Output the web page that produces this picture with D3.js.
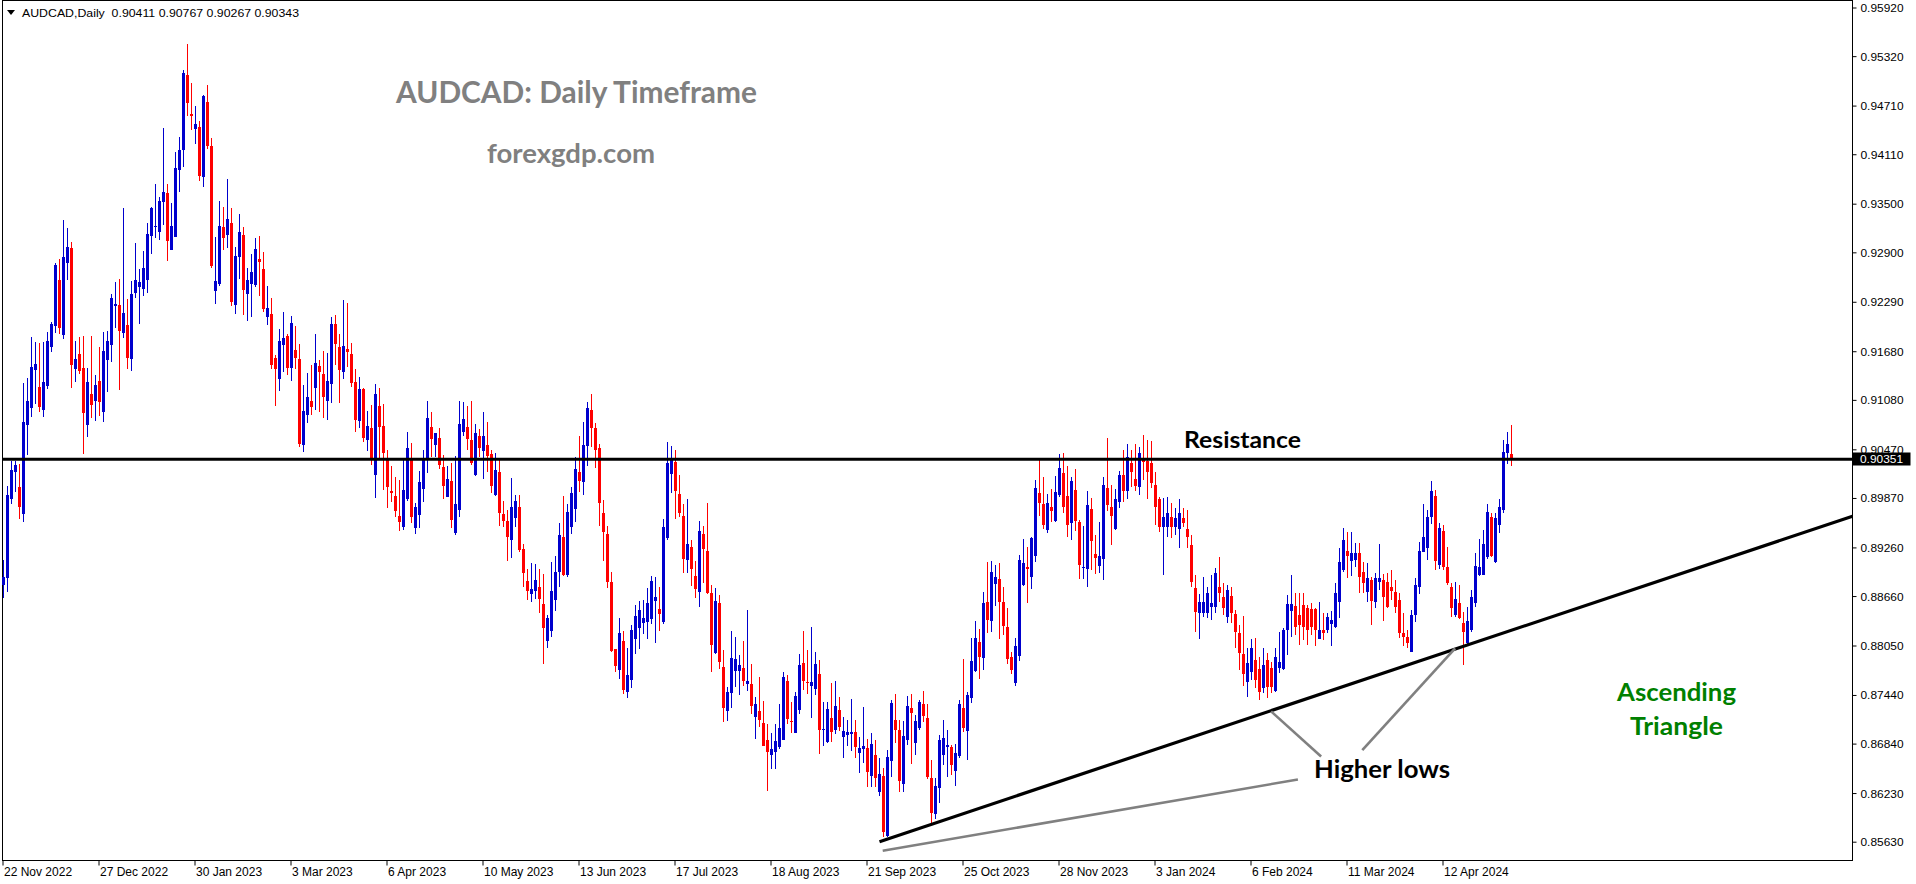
<!DOCTYPE html>
<html><head><meta charset="utf-8">
<script src="https://cdn.jsdelivr.net/npm/d3@7"></script>
<style>html,body{margin:0;padding:0;background:#fff;overflow:hidden}svg{display:block}</style>
</head><body>
<svg id="chart" width="1916" height="884"></svg>
<script>
// ---------- data ----------
const symbolTitle = "AUDCAD,Daily";
const priceTicks = [0.95920,0.95320,0.94710,0.94110,0.93500,0.92900,0.92290,0.91680,0.91080,0.90470,0.89870,0.89260,0.88660,0.88050,0.87440,0.86840,0.86230,0.85630];
const dateLabels = ["22 Nov 2022","27 Dec 2022","30 Jan 2023","3 Mar 2023","6 Apr 2023","10 May 2023","13 Jun 2023","17 Jul 2023","18 Aug 2023","21 Sep 2023","25 Oct 2023","28 Nov 2023","3 Jan 2024","6 Feb 2024","11 Mar 2024","12 Apr 2024"];
const dateLabelBars = [0,24,48,72,96,120,144,168,192,216,240,264,288,312,336,360];

const opens = [.8880,.8888,.8986,.9019,.9000,.8967,.9077,.9098,.9145,.9124,
.9095,.9125,.9173,.9199,.9256,.9188,.9277,.9295,.9146,.9165,
.9147,.9077,.9115,.9107,.9131,.9093,.9157,.9176,.9224,.9225,
.9190,.9200,.9158,.9240,.9247,.9245,.9256,.9310,.9321,.9315,
.9352,.9363,.9293,.9309,.9391,.9416,.9509,.9461,.9442,.9445,
.9383,.9475,.9421,.9242,.9251,.9321,.9311,.9326,.9225,.9284,
.9311,.9238,.9251,.9250,.9282,.9269,.9210,.9214,.9160,.9134,
.9176,.9187,.9147,.9169,.9158,.9052,.9089,.9107,.9123,.9150,
.9140,.9107,.9128,.9202,.9173,.9142,.9171,.9165,.9130,.9082,
.9121,.9058,.9073,.9015,.9100,.9076,.9034,.8996,.8989,.8965,
.8951,.8986,.9034,.8950,.8966,.8998,.9035,.9074,.9052,.9061,
.9025,.8988,.9008,.8944,.8972,.9068,.9074,.9058,.9015,.9063,
.9045,.9052,.9041,.8991,.9019,.8967,.8958,.8935,.8962,.8976,
.8924,.8885,.8869,.8872,.8877,.8856,.8811,.8823,.8861,.8896,
.8939,.8892,.8951,.8973,.9019,.9007,.9051,.9095,.9073,.9049,
.8968,.8943,.8883,.8801,.8775,.8811,.8748,.8762,.8813,.8827,
.8833,.8834,.8838,.8860,.8850,.8834,.8938,.9016,.9031,.8992,
.8965,.8910,.8926,.8891,.8871,.8943,.8921,.8870,.8796,.8857,
.8778,.8724,.8746,.8773,.8773,.8777,.8757,.8757,.8717,.8724,
.8709,.8688,.8670,.8674,.8680,.8688,.8761,.8712,.8697,.8725,
.8783,.8760,.8755,.8751,.8770,.8701,.8686,.8716,.8701,.8725,
.8692,.8695,.8696,.8698,.8672,.8677,.8679,.8644,.8670,.8624,
.8644,.8570,.8663,.8713,.8701,.8634,.8688,.8728,.8685,.8703,
.8733,.8716,.8642,.8597,.8629,.8670,.8680,.8680,.8650,.8669,
.8728,.8700,.8740,.8773,.8809,.8790,.8859,.8835,.8881,.8887,
.8859,.8828,.8791,.8759,.8792,.8880,.8902,.8889,.8915,.8993,
.8980,.8947,.8976,.8958,.8991,.9018,.8989,.8956,.8997,.8957,
.8901,.8899,.8973,.8918,.8903,.8912,.8999,.8976,.8949,.8982,
.9015,.8996,.9030,.9010,.9000,.9035,.9033,.9030,.9003,.8986,
.8951,.8951,.8963,.8951,.8949,.8962,.8949,.8929,.8876,.8845,
.8845,.8845,.8852,.8852,.8877,.8865,.8840,.8866,.8844,.8820,
.8795,.8760,.8772,.8787,.8776,.8753,.8787,.8777,.8749,.8777,
.8776,.8824,.8848,.8854,.8843,.8855,.8851,.8850,.8850,.8813,
.8824,.8824,.8831,.8828,.8859,.8898,.8921,.8909,.8910,.8919,
.8896,.8871,.8886,.8859,.8883,.8886,.8883,.8877,.8871,.8861,
.8820,.8815,.8797,.8843,.8877,.8920,.8925,.8963,.8989,.8904,
.8946,.8902,.8877,.8843,.8857,.8833,.8808,.8824,.8857,.8892,
.8892,.8914,.8963,.8908,.8954,.8972,.9042,.90411];

const highs = [.8910,.9002,.9033,.9033,.9029,.9129,.9135,.9186,.9179,.9178,
.9179,.9192,.9204,.9277,.9282,.9330,.9320,.9303,.9181,.9186,
.9187,.9147,.9187,.9139,.9173,.9192,.9193,.9238,.9253,.9257,
.9345,.9232,.9255,.9301,.9269,.9292,.9326,.9346,.9374,.9358,
.9443,.9374,.9351,.9414,.9432,.9515,.9547,.9499,.9470,.9452,
.9484,.9496,.9431,.9309,.9353,.9346,.9380,.9345,.9296,.9337,
.9321,.9271,.9288,.9308,.9310,.9290,.9248,.9234,.9163,.9195,
.9216,.9189,.9211,.9199,.9177,.9126,.9141,.9151,.9189,.9157,
.9168,.9166,.9210,.9213,.9189,.9231,.9227,.9178,.9146,.9136,
.9123,.9094,.9102,.9128,.9123,.9103,.9046,.9026,.9013,.9009,
.9034,.9068,.9055,.8981,.9020,.9046,.9107,.9093,.9067,.9073,
.9040,.9026,.9030,.9039,.9107,.9105,.9100,.9107,.9078,.9072,
.9093,.9081,.9046,.9042,.9034,.8983,.8972,.9012,.8991,.8991,
.8930,.8899,.8907,.8906,.8899,.8893,.8843,.8908,.8915,.8956,
.8989,.8980,.9000,.9037,.9063,.9081,.9105,.9115,.9079,.9054,
.8985,.8952,.8896,.8801,.8839,.8823,.8802,.8830,.8855,.8860,
.8861,.8876,.8891,.8889,.8877,.8961,.9056,.9051,.9046,.9015,
.8980,.8986,.8935,.8909,.8959,.8952,.8981,.8880,.8876,.8867,
.8799,.8754,.8823,.8815,.8793,.8811,.8849,.8782,.8741,.8766,
.8737,.8708,.8697,.8708,.8733,.8772,.8769,.8735,.8748,.8794,
.8823,.8799,.8828,.8797,.8787,.8735,.8735,.8759,.8761,.8741,
.8717,.8713,.8739,.8713,.8692,.8729,.8690,.8697,.8688,.8666,
.8654,.8676,.8738,.8745,.8713,.8712,.8743,.8745,.8719,.8738,
.8749,.8733,.8664,.8642,.8695,.8713,.8701,.8682,.8683,.8738,
.8788,.8748,.8814,.8835,.8825,.8871,.8908,.8909,.8904,.8907,
.8877,.8851,.8797,.8814,.8917,.8936,.8926,.8939,.9009,.9034,
.9013,.8992,.8998,.9014,.9041,.9042,.9026,.9013,.9023,.8960,
.8952,.8996,.8987,.8941,.8957,.9013,.9061,.9003,.8998,.9020,
.9046,.9054,.9046,.9054,.9050,.9065,.9058,.9057,.9019,.8988,
.8987,.8988,.8981,.8975,.8986,.8975,.8972,.8941,.8892,.8869,
.8889,.8877,.8892,.8900,.8914,.8882,.8880,.8877,.8849,.8830,
.8841,.8802,.8813,.8814,.8791,.8802,.8796,.8785,.8802,.8822,
.8827,.8867,.8892,.8870,.8870,.8870,.8855,.8857,.8851,.8859,
.8845,.8845,.8848,.8882,.8925,.8950,.8945,.8945,.8931,.8931,
.8908,.8907,.8889,.8894,.8930,.8893,.8894,.8898,.8886,.8870,
.8845,.8824,.8849,.8888,.8933,.8980,.8972,.9008,.8997,.8956,
.8954,.8926,.8882,.8883,.8880,.8846,.8852,.8873,.8919,.8936,
.8947,.8980,.8968,.8968,.8986,.9058,.9068,.90767];

const lows = [.8864,.8871,.8980,.8994,.8961,.8957,.9040,.9087,.9103,.9093,
.9087,.9121,.9167,.9190,.9189,.9183,.9256,.9123,.9130,.9140,
.9041,.9062,.9086,.9082,.9088,.9081,.9118,.9155,.9197,.9120,
.9184,.9146,.9144,.9234,.9202,.9236,.9240,.9288,.9308,.9305,
.9324,.9279,.9293,.9309,.9364,.9395,.9458,.9441,.9424,.9378,
.9371,.9417,.9271,.9226,.9248,.9293,.9295,.9224,.9214,.9257,
.9213,.9205,.9210,.9247,.9236,.9216,.9200,.9146,.9100,.9119,
.9142,.9139,.9131,.9146,.9050,.9044,.9079,.9089,.9095,.9093,
.9086,.9083,.9104,.9151,.9104,.9134,.9149,.9124,.9068,.9073,
.9056,.9045,.9028,.8987,.9036,.8997,.8975,.8982,.8963,.8946,
.8947,.8983,.8956,.8943,.8950,.8982,.9018,.9037,.9037,.9023,
.8986,.8988,.8950,.8941,.8963,.9063,.9046,.9028,.9014,.9037,
.9010,.9019,.8993,.8989,.8952,.8951,.8909,.8913,.8951,.8920,
.8877,.8861,.8859,.8862,.8845,.8782,.8802,.8815,.8847,.8877,
.8891,.8889,.8943,.8957,.8994,.8991,.9026,.9050,.9024,.8952,
.8909,.8876,.8797,.8772,.8764,.8745,.8740,.8753,.8795,.8801,
.8819,.8813,.8831,.8808,.8823,.8831,.8935,.8993,.8961,.8963,
.8894,.8894,.8878,.8864,.8852,.8882,.8869,.8772,.8795,.8776,
.8711,.8712,.8728,.8754,.8744,.8755,.8749,.8720,.8690,.8704,
.8681,.8626,.8653,.8653,.8677,.8688,.8708,.8697,.8697,.8720,
.8750,.8745,.8716,.8744,.8671,.8681,.8685,.8686,.8696,.8700,
.8666,.8681,.8675,.8666,.8648,.8660,.8630,.8630,.8630,.8619,
.8569,.8569,.8643,.8685,.8624,.8624,.8682,.8659,.8670,.8701,
.8711,.8640,.8586,.8591,.8611,.8658,.8643,.8645,.8632,.8666,
.8698,.8664,.8734,.8772,.8764,.8775,.8820,.8822,.8854,.8813,
.8818,.8782,.8770,.8755,.8786,.8878,.8857,.8875,.8908,.8965,
.8949,.8944,.8957,.8957,.8988,.8968,.8939,.8935,.8946,.8887,
.8887,.8877,.8898,.8893,.8894,.8886,.8971,.8929,.8947,.8975,
.8982,.8986,.9000,.8996,.8991,.9009,.8986,.8999,.8954,.8945,
.8892,.8939,.8938,.8941,.8925,.8951,.8925,.8877,.8822,.8813,
.8840,.8839,.8836,.8845,.8859,.8843,.8833,.8833,.8802,.8775,
.8755,.8741,.8762,.8753,.8738,.8746,.8740,.8746,.8748,.8771,
.8775,.8793,.8815,.8818,.8806,.8812,.8806,.8818,.8804,.8813,
.8812,.8820,.8804,.8827,.8839,.8896,.8888,.8891,.8902,.8870,
.8870,.8859,.8830,.8851,.8873,.8835,.8851,.8861,.8845,.8814,
.8804,.8802,.8797,.8834,.8869,.8920,.8910,.8955,.8898,.8899,
.8898,.8880,.8840,.8840,.8838,.8781,.8806,.8822,.8852,.8891,
.8892,.8912,.8914,.8907,.8944,.8968,.9029,.90267];

const closes = [.8889,.8991,.9021,.9028,.8976,.9081,.9107,.9149,.9152,.9099,
.9130,.9181,.9202,.9274,.9197,.9284,.9296,.9151,.9158,.9144,
.9092,.9130,.9102,.9126,.9105,.9168,.9181,.9234,.9226,.9193,
.9215,.9160,.9238,.9256,.9253,.9271,.9313,.9345,.9322,.9353,
.9364,.9304,.9322,.9394,.9416,.9511,.9474,.9458,.9448,.9384,
.9483,.9421,.9273,.9255,.9322,.9308,.9331,.9229,.9285,.9315,
.9243,.9256,.9266,.9294,.9278,.9220,.9221,.9151,.9146,.9181,
.9184,.9147,.9203,.9160,.9054,.9094,.9112,.9099,.9153,.9142,
.9112,.9131,.9202,.9177,.9145,.9174,.9167,.9129,.9083,.9121,
.9061,.9076,.9036,.9115,.9074,.9042,.9000,.8993,.8971,.8957,
.8997,.9049,.8963,.8976,.9007,.9035,.9086,.9060,.9067,.9028,
.9002,.9010,.8960,.8980,.9078,.9084,.9060,.9030,.9067,.9049,
.9063,.9039,.9002,.9021,.8968,.8958,.8939,.8976,.8983,.8923,
.8894,.8872,.8875,.8886,.8862,.8827,.8839,.8872,.8896,.8941,
.8892,.8970,.8993,.9023,.9008,.9052,.9098,.9073,.9046,.8981,
.8945,.8883,.8798,.8780,.8820,.8750,.8769,.8824,.8841,.8849,
.8839,.8857,.8885,.8865,.8844,.8951,.9030,.9036,.8996,.8968,
.8912,.8930,.8899,.8875,.8946,.8924,.8870,.8806,.8860,.8785,
.8728,.8748,.8790,.8788,.8781,.8761,.8761,.8730,.8733,.8713,
.8681,.8674,.8677,.8687,.8703,.8766,.8714,.8711,.8743,.8781,
.8761,.8759,.8760,.8782,.8701,.8702,.8727,.8698,.8730,.8704,
.8700,.8698,.8698,.8680,.8679,.8681,.8649,.8683,.8642,.8646,
.8575,.8667,.8734,.8701,.8638,.8693,.8730,.8722,.8712,.8735,
.8718,.8643,.8598,.8632,.8688,.8691,.8682,.8658,.8672,.8733,
.8703,.8744,.8786,.8814,.8791,.8857,.8836,.8896,.8889,.8859,
.8829,.8788,.8775,.8804,.8910,.8907,.8899,.8938,.8999,.8981,
.8954,.8981,.8971,.8994,.9024,.8976,.8954,.9008,.8958,.8904,
.8902,.8978,.8934,.8913,.8915,.9003,.8978,.8965,.8986,.9015,
.8996,.9037,.9019,.9002,.9042,.9031,.9019,.9005,.8976,.8951,
.8963,.8968,.8951,.8962,.8968,.8956,.8939,.8883,.8846,.8859,
.8859,.8870,.8857,.8894,.8870,.8851,.8873,.8845,.8822,.8796,
.8770,.8783,.8802,.8762,.8748,.8781,.8754,.8754,.8791,.8785,
.8824,.8856,.8856,.8828,.8830,.8828,.8824,.8828,.8824,.8824,
.8820,.8840,.8836,.8870,.8908,.8935,.8916,.8919,.8919,.8889,
.8882,.8888,.8860,.8888,.8888,.8865,.8853,.8872,.8853,.8820,
.8815,.8808,.8843,.8880,.8921,.8939,.8963,.8996,.8909,.8950,
.8902,.8882,.8851,.8862,.8839,.8822,.8835,.8865,.8903,.8902,
.8930,.8970,.8916,.8962,.8976,.9044,.9054,.90343];

const resistancePrice = 0.90347;
const bidPrice = 0.90351;
// trend line anchors: [bar index, price]
const trendAnchors = [[219, 0.8563], [365, 0.8804]];
// grey pointer lines to "Higher lows": [[bar, price],[bar, price]]
const pointerLines = [
  [[219.8, 0.85519], [323.6, 0.86397]],
  [[316.9, 0.87238], [329.4, 0.86682]],
  [[362.9, 0.88016], [339.7, 0.86761]]
];

// ---------- layout ----------
const plotLeft = 2.5, plotRight = 1852.5, plotTop = 0.5, plotBottom = 860.5;
const svg = d3.select("#chart");

const x = d3.scaleLinear().domain([0, closes.length - 1]).range([3.5, 3.5 + 4 * (closes.length - 1)]);
const y = d3.scaleLinear().domain([0.85630, 0.95920]).range([841.7, 7.5]);

const BLUE = "#0000cd", RED = "#ff0000";
const axisFont = "'Liberation Sans', Arial, sans-serif";
const labelFont = "Lato, 'Open Sans', sans-serif";

// frame
svg.append("rect").attr("x", plotLeft).attr("y", plotTop)
  .attr("width", plotRight - plotLeft).attr("height", plotBottom - plotTop)
  .attr("fill", "none").attr("stroke", "#000").attr("stroke-width", 1);

// candles
const data = closes.map((c, i) => ({i, o: opens[i], h: highs[i], l: lows[i], c}));
const cg = svg.append("g").attr("shape-rendering", "crispEdges");
const candles = cg.selectAll("g.c").data(data).join("g").attr("class", "c");
candles.append("rect")
  .attr("x", d => x(d.i) - 0.5).attr("width", 1)
  .attr("y", d => Math.round(y(d.h)))
  .attr("height", d => Math.max(1, Math.round(y(d.l)) - Math.round(y(d.h))))
  .attr("fill", d => d.c >= d.o ? BLUE : RED);
candles.append("rect")
  .attr("x", d => x(d.i) - 1.5).attr("width", 3)
  .attr("y", d => Math.round(y(Math.max(d.o, d.c))))
  .attr("height", d => Math.max(1, Math.round(y(Math.min(d.o, d.c))) - Math.round(y(Math.max(d.o, d.c)))))
  .attr("fill", d => d.c >= d.o ? BLUE : RED);

// resistance line
svg.append("line").attr("x1", plotLeft).attr("x2", plotRight)
  .attr("y1", y(resistancePrice)).attr("y2", y(resistancePrice))
  .attr("stroke", "#000").attr("stroke-width", 3);

// ascending trend line (ray to the right edge)
const slope = (trendAnchors[1][1] - trendAnchors[0][1]) / (trendAnchors[1][0] - trendAnchors[0][0]);
const endBar = x.invert(plotRight);
svg.append("line")
  .attr("x1", x(trendAnchors[0][0])).attr("y1", y(trendAnchors[0][1]))
  .attr("x2", x(endBar)).attr("y2", y(trendAnchors[0][1] + slope * (endBar - trendAnchors[0][0])))
  .attr("stroke", "#000").attr("stroke-width", 3.2);

// grey pointer lines
svg.append("g").selectAll("line").data(pointerLines).join("line")
  .attr("x1", d => x(d[0][0])).attr("y1", d => y(d[0][1]))
  .attr("x2", d => x(d[1][0])).attr("y2", d => y(d[1][1]))
  .attr("stroke", "#808080").attr("stroke-width", 2.6);

// right price axis
const yAxis = d3.axisRight(y).tickValues(priceTicks).tickFormat(d3.format(".5f")).tickSize(4).tickPadding(4);
const ya = svg.append("g").attr("transform", `translate(${plotRight},0)`).call(yAxis)
  .attr("font-family", axisFont).attr("font-size", 11);
ya.select(".domain").remove();
ya.selectAll(".tick line").attr("stroke", "#000");
ya.selectAll(".tick text").attr("fill", "#000").attr("dy", "0.36em").attr("textLength", 43).attr("lengthAdjust", "spacingAndGlyphs");

// bottom date axis
const xAxis = d3.axisBottom(x).tickValues(dateLabelBars).tickFormat((d, k) => dateLabels[k]).tickSize(5).tickPadding(2);
const xa = svg.append("g").attr("transform", `translate(-1,${plotBottom})`).call(xAxis)
  .attr("font-family", axisFont).attr("font-size", 12);
xa.select(".domain").remove();
xa.selectAll(".tick line").attr("stroke", "#000");
xa.selectAll(".tick text").attr("fill", "#000").attr("text-anchor", "start").attr("x", 1);

// bid price marker
const bg = svg.append("g");
bg.append("rect").attr("x", plotRight).attr("y", Math.round(y(bidPrice)) - 6.5).attr("width", 58).attr("height", 13).attr("fill", "#000");
bg.append("text").attr("x", plotRight + 7.5).attr("y", y(bidPrice)).attr("dy", "0.36em")
  .attr("font-family", axisFont).attr("font-size", 11).attr("fill", "#fff")
  .attr("textLength", 43).attr("lengthAdjust", "spacingAndGlyphs").text(d3.format(".5f")(bidPrice));

// header
svg.append("path").attr("d", "M7,10 L15,10 L11,15 Z").attr("fill", "#000");
svg.append("text").attr("x", 22).attr("y", 17)
  .attr("font-family", axisFont).attr("font-size", 11).attr("fill", "#000")
  .style("white-space", "pre").attr("textLength", 277).attr("lengthAdjust", "spacingAndGlyphs")
  .text(`${symbolTitle}  ${[opens, highs, lows, closes].map(a => d3.format(".5f")(a[a.length - 1])).join(" ")}`);

// annotations
const notes = [
  {t: "AUDCAD: Daily Timeframe", x: 396, y: 103, s: 30, c: "#808080", w: 361},
  {t: "forexgdp.com", x: 487, y: 163, s: 26, c: "#808080", w: 168},
  {t: "Resistance", x: 1184, y: 448, s: 23, c: "#000", w: 117},
  {t: "Higher lows", x: 1314, y: 778, s: 24, c: "#000", w: 136},
  {t: "Ascending", x: 1617, y: 701, s: 25, c: "#008000", w: 119},
  {t: "Triangle", x: 1630, y: 735, s: 25, c: "#008000", w: 93}
];
svg.append("g").selectAll("text").data(notes).join("text")
  .attr("x", d => d.x).attr("y", d => d.y)
  .attr("font-family", labelFont).attr("font-weight", 700).attr("font-size", d => d.s)
  .attr("fill", d => d.c).attr("textLength", d => d.w).attr("lengthAdjust", "spacingAndGlyphs")
  .text(d => d.t);
</script>
</body></html>
